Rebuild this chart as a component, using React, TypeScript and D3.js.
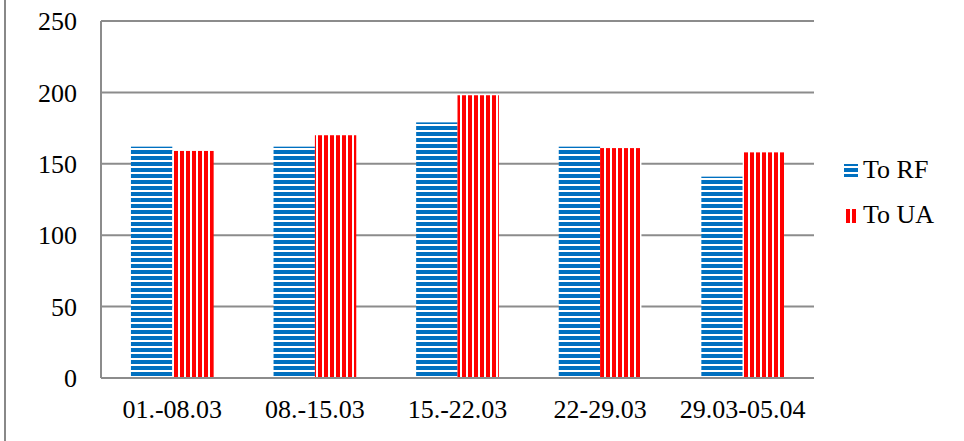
import React from "react";
import * as d3 from "d3";

const categories = ["01.-08.03", "08.-15.03", "15.-22.03", "22-29.03", "29.03-05.04"];
const toRF = [162, 162, 179, 162, 141];
const toUA = [159, 170, 198, 161, 158];
const yTicks = [0, 50, 100, 150, 200, 250];
const seriesNames = ["To RF", "To UA"];

const W = 964;
const H = 441;
const left = 101;
const right = 814;
const top = 21;
const bottom = 378;

export default function App() {
  const x0 = d3.scaleBand<string>().domain(categories).range([left, right]).paddingInner(0.42).paddingOuter(0.21);
  const x1 = d3.scaleBand<string>().domain(seriesNames).range([0, x0.bandwidth()]);
  const y = d3.scaleLinear().domain([0, 250]).range([bottom, top]);
  const font = "'Liberation Serif', 'Times New Roman', serif";
  const fs = 26;
  return (
    <svg width={W} height={H} style={{ position: "absolute", left: 0, top: 0, background: "#fff" }}>
      <defs>
        <pattern id="hz" width={6} height={6} patternUnits="userSpaceOnUse">
          <rect width={6} height={6} fill="#fff" />
          <rect y={0} width={6} height={4} fill="#0070C0" />
        </pattern>
        <pattern id="vt" width={6} height={6} patternUnits="userSpaceOnUse">
          <rect width={6} height={6} fill="#fff" />
          <rect x={0} width={4} height={6} fill="#FF0000" />
        </pattern>
      </defs>
      <line x1={5} x2={5} y1={0} y2={H} stroke="#888" strokeWidth={2} />
      {yTicks.map((t) => (
        <g key={t}>
          <line x1={left} x2={right} y1={y(t)} y2={y(t)} stroke="#8c8c8c" strokeWidth={2} />
          <text x={77} y={y(t)} dy="0.35em" textAnchor="end" fontFamily={font} fontSize={fs} fill="#000">
            {t}
          </text>
        </g>
      ))}
      <line x1={left} x2={left} y1={top} y2={bottom} stroke="#8c8c8c" strokeWidth={2} />
      {categories.map((c, i) => (
        <g key={c}>
          <rect
            x={(x0(c) as number) + (x1("To RF") as number)}
            y={y(toRF[i])}
            width={x1.bandwidth()}
            height={y(0) - y(toRF[i])}
            fill="url(#hz)"
          />
          <rect
            x={(x0(c) as number) + (x1("To UA") as number)}
            y={y(toUA[i])}
            width={x1.bandwidth()}
            height={y(0) - y(toUA[i])}
            fill="url(#vt)"
          />
          <text
            x={(x0(c) as number) + x0.bandwidth() / 2}
            y={418}
            textAnchor="middle"
            fontFamily={font}
            fontSize={fs}
            fill="#000"
          >
            {c}
          </text>
        </g>
      ))}
      <line x1={left} x2={right} y1={bottom} y2={bottom} stroke="#8c8c8c" strokeWidth={2} />
      <g>
        <rect x={844} y={164} width={14} height={13} fill="url(#hz)" />
        <text x={863} y={178} fontFamily={font} fontSize={fs} fill="#000">{seriesNames[0]}</text>
        <rect x={844} y={209} width={14} height={14} fill="url(#vt)" />
        <text x={863} y={223} fontFamily={font} fontSize={fs} fill="#000">{seriesNames[1]}</text>
      </g>
    </svg>
  );
}
